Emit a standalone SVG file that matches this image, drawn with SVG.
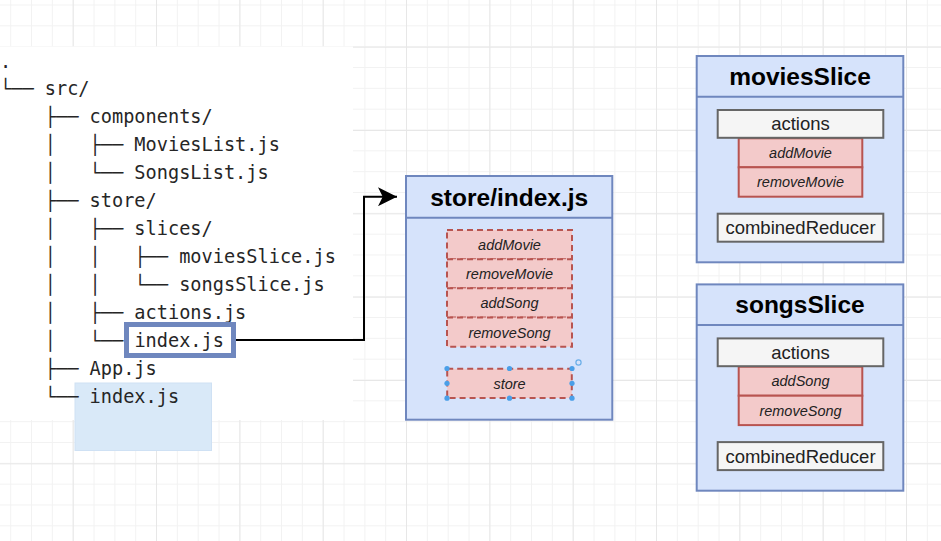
<svg xmlns="http://www.w3.org/2000/svg" width="941" height="541" viewBox="0 0 941 541">
<defs>
<pattern id="gMinor" patternUnits="userSpaceOnUse" x="10.2" y="4.5" width="20.833" height="20.833">
<path d="M0,0.5 H20.833 M0.5,0 V20.833" fill="none" stroke="#f2f2f2" stroke-width="1"/>
</pattern>
<pattern id="gMajor" patternUnits="userSpaceOnUse" x="72.7" y="46.7" width="83.33" height="83.33">
<path d="M0,0.5 H83.33 M0.5,0 V83.33" fill="none" stroke="#e7e7e7" stroke-width="1"/>
</pattern>
<marker id="arrow" markerUnits="userSpaceOnUse" markerWidth="19" markerHeight="19" viewBox="0 0 18 18" refX="18" refY="9" orient="auto">
<path d="M0,0 L18,9 L0,18 L4.5,9 Z" fill="#000"/>
</marker>
<style>
.tree{font-family:"DejaVu Sans Mono","Liberation Mono",monospace;font-size:18.6px;fill:#262626}
.panel{fill:#d6e3fb;stroke:#6f87be;stroke-width:2}
.title{font-family:"Liberation Sans",Arial,sans-serif;font-size:24.5px;font-weight:bold;fill:#000;text-anchor:middle}
.grey{fill:#f5f5f5;stroke:#666;stroke-width:2}
.red{fill:#f3caca;stroke:#b85450;stroke-width:2}
.dash{fill:#f3caca;stroke:#b85450;stroke-width:2;stroke-dasharray:6 4}
.lbl{font-family:"Liberation Sans",Arial,sans-serif;font-size:18.5px;fill:#222;text-anchor:middle}
.it{font-family:"Liberation Sans",Arial,sans-serif;font-size:14.5px;font-style:italic;fill:#222;text-anchor:middle}
.handle{fill:#4a9fe8}
</style>
</defs>
<rect width="941" height="541" fill="#fff"/>
<rect width="941" height="541" fill="url(#gMinor)"/>
<rect width="941" height="541" fill="url(#gMajor)"/>
<rect x="0" y="46.5" width="353" height="373.5" fill="#fff"/>

<g id="selection">
<rect x="75" y="383" width="136.5" height="67.5" fill="#d9e9f8" stroke="#cfe1f4" stroke-width="1"/>
</g>

<g id="tree" class="tree">
<text x="0" y="67.5">.</text>
<text x="0" y="95">└── src/</text>
<text x="44.8" y="123">├── components/</text>
<text x="44.8" y="151">│</text><text x="89.6" y="151">├── MoviesList.js</text>
<text x="44.8" y="179">│</text><text x="89.6" y="179">└── SongsList.js</text>
<text x="44.8" y="207">├── store/</text>
<text x="44.8" y="235">│</text><text x="89.6" y="235">├── slices/</text>
<text x="44.8" y="263">│</text><text x="89.6" y="263">│</text><text x="134.4" y="263">├── moviesSlice.js</text>
<text x="44.8" y="291">│</text><text x="89.6" y="291">│</text><text x="134.4" y="291">└── songsSlice.js</text>
<text x="44.8" y="319">│</text><text x="89.6" y="319">├── actions.js</text>
<text x="44.8" y="347">│</text><text x="89.6" y="347">└──</text>
<text x="44.8" y="375">├── App.js</text>
<text x="44.8" y="403">└── index.js</text>
</g>

<g id="node-index-highlight">
<rect x="126.5" y="324.5" width="107" height="31" fill="#fff" stroke="#6f87be" stroke-width="5"/>
<text class="tree" x="134.4" y="347">index.js</text>
</g>

<g id="connectors">
<path d="M236,340 H364 V196.7 H397" fill="none" stroke="#000" stroke-width="2" marker-end="url(#arrow)"/>
</g>

<g id="node-store-index">
<rect class="panel" x="406" y="176" width="206.3" height="243.7"/>
<line x1="406" y1="217.7" x2="612.3" y2="217.7" stroke="#6f87be" stroke-width="2"/>
<text class="title" x="509.2" y="205.5">store/index.js</text>
<rect class="dash" x="447" y="230" width="125" height="29.2"/>
<rect class="dash" x="447" y="259.2" width="125" height="29.15"/>
<rect class="dash" x="447" y="288.35" width="125" height="29.15"/>
<rect class="dash" x="447" y="317.5" width="125" height="29.2"/>
<text class="it" x="509.5" y="250">addMovie</text>
<text class="it" x="509.5" y="279.2">removeMovie</text>
<text class="it" x="509.5" y="308.4">addSong</text>
<text class="it" x="509.5" y="337.6">removeSong</text>
<rect class="dash" x="447.2" y="368.8" width="124.6" height="29.2"/>
<text class="it" x="509.5" y="388.5">store</text>
<g class="handle">
<circle cx="447" cy="368.5" r="2.6"/>
<circle cx="509.5" cy="368.5" r="2.6"/>
<circle cx="572" cy="368.5" r="2.6"/>
<circle cx="447" cy="383.3" r="2.6"/>
<circle cx="572" cy="383.3" r="2.6"/>
<circle cx="447" cy="398.2" r="2.6"/>
<circle cx="509.5" cy="398.2" r="2.6"/>
<circle cx="572" cy="398.2" r="2.6"/>
</g>
<circle cx="578.5" cy="362.5" r="2.6" fill="none" stroke="#6aaee8" stroke-width="1.2"/>
</g>

<g id="node-moviesSlice">
<rect class="panel" x="696.7" y="56" width="206.6" height="206.3"/>
<line x1="696.7" y1="96.7" x2="903.3" y2="96.7" stroke="#6f87be" stroke-width="2"/>
<text class="title" x="800" y="85">moviesSlice</text>
<rect class="red" x="738.7" y="138.3" width="123.6" height="29"/>
<rect class="red" x="738.7" y="167.3" width="123.6" height="29.4"/>
<rect class="grey" x="717.7" y="110" width="165.6" height="27.8"/>
<text class="lbl" x="800.5" y="130.3">actions</text>
<text class="it" x="800.5" y="158">addMovie</text>
<text class="it" x="800.5" y="187.2">removeMovie</text>
<rect class="grey" x="717.7" y="213.7" width="165.6" height="28"/>
<text class="lbl" x="800.5" y="234.3">combinedReducer</text>
</g>

<g id="node-songsSlice" transform="translate(0,228.4)">
<rect class="panel" x="696.7" y="56" width="206.6" height="206.3"/>
<line x1="696.7" y1="96.7" x2="903.3" y2="96.7" stroke="#6f87be" stroke-width="2"/>
<text class="title" x="800" y="85">songsSlice</text>
<rect class="red" x="738.7" y="138.3" width="123.6" height="29"/>
<rect class="red" x="738.7" y="167.3" width="123.6" height="29.4"/>
<rect class="grey" x="717.7" y="110" width="165.6" height="27.8"/>
<text class="lbl" x="800.5" y="130.3">actions</text>
<text class="it" x="800.5" y="158">addSong</text>
<text class="it" x="800.5" y="187.2">removeSong</text>
<rect class="grey" x="717.7" y="213.7" width="165.6" height="28"/>
<text class="lbl" x="800.5" y="234.3">combinedReducer</text>
</g>
</svg>
